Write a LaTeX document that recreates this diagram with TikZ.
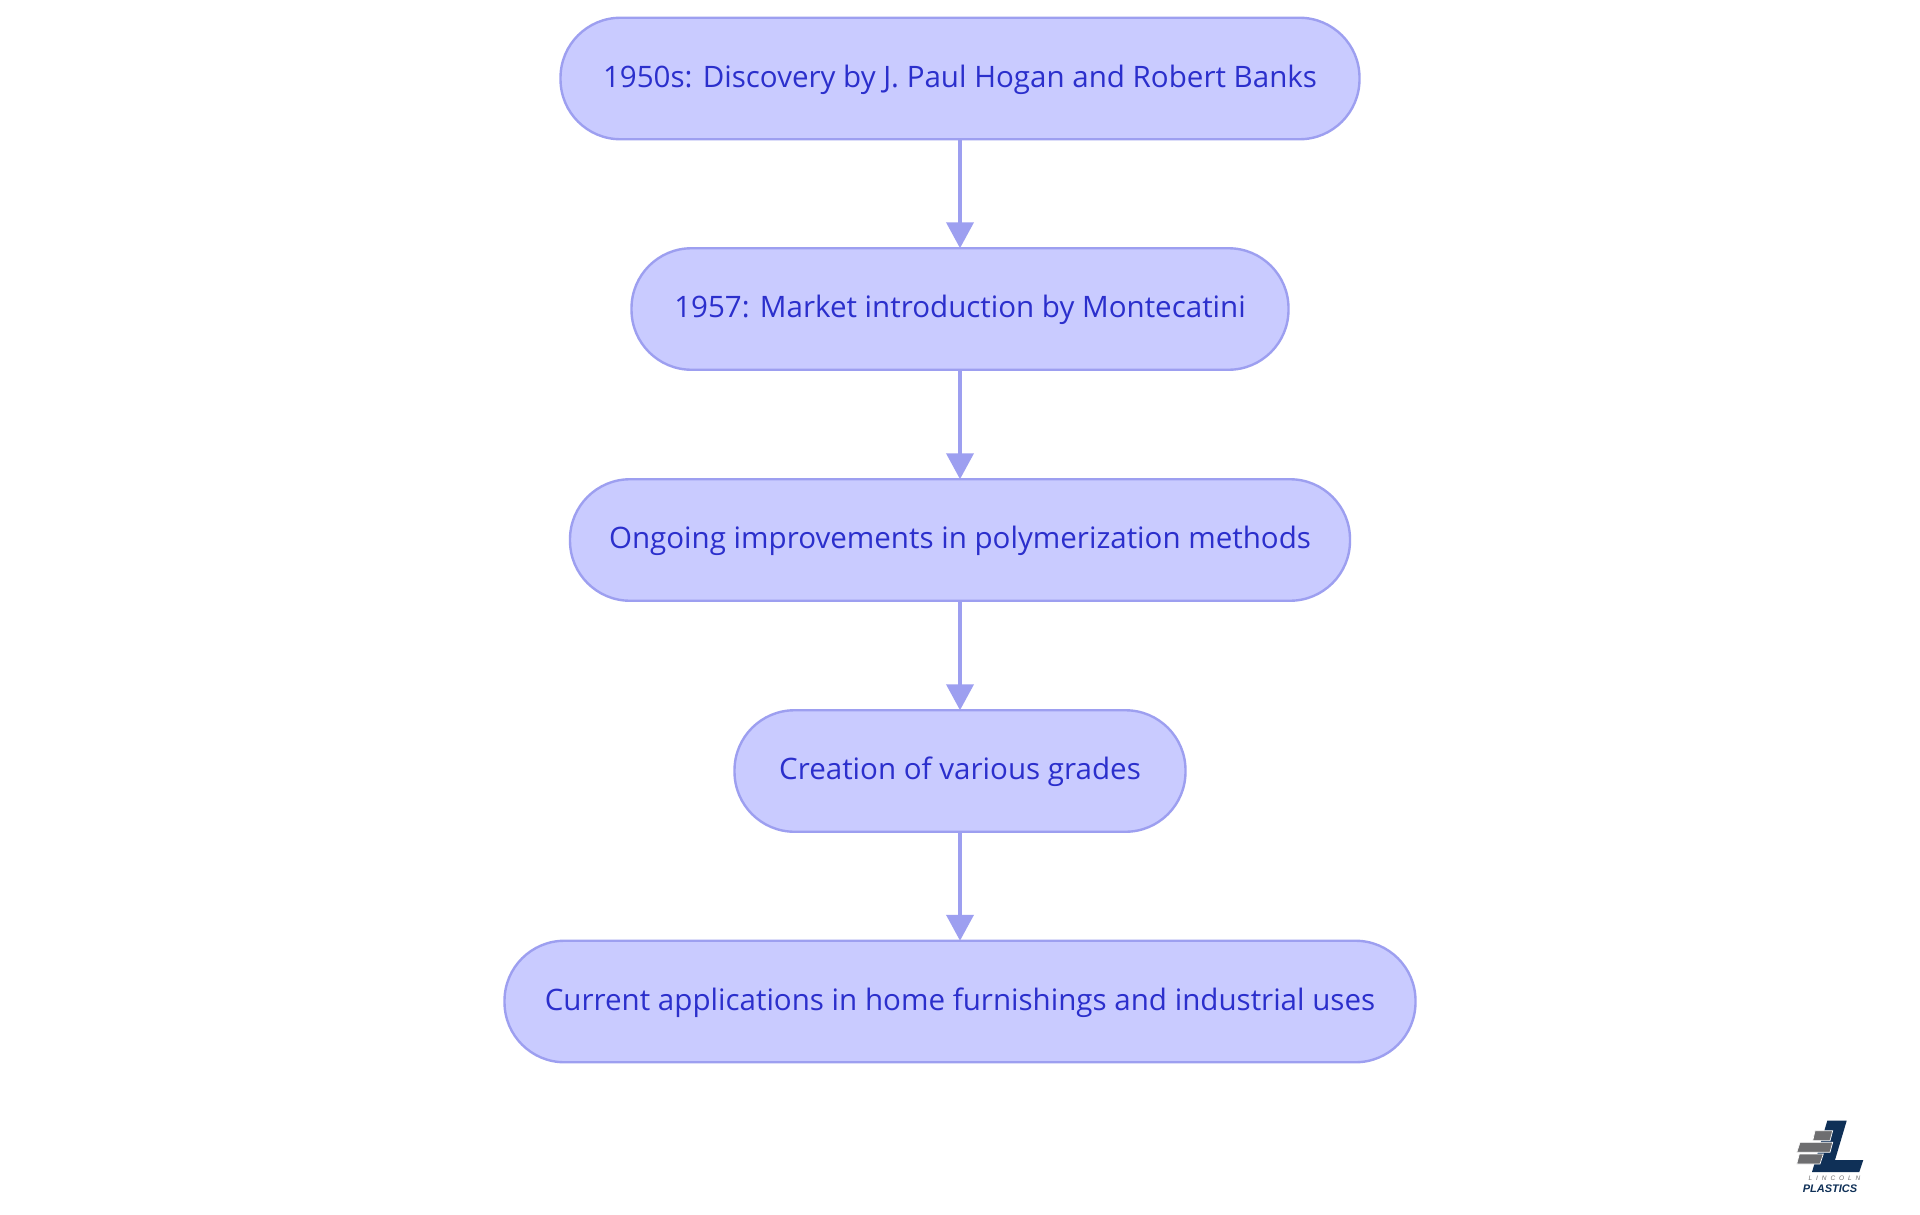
\documentclass[tikz,border=0pt]{standalone}
\usepackage{fontspec}
\setmainfont{Open Sans}
\newfontfamily\logofont{Liberation Sans}
\newfontfamily\logospaced[LetterSpace=60]{Liberation Sans}
\usetikzlibrary{arrows.meta}
\definecolor{pillfill}{HTML}{C9CBFF}
\definecolor{pillline}{HTML}{9D9FF0}
\definecolor{pilltext}{HTML}{2B2FCC}
\definecolor{logonavy}{HTML}{0F3057}
\definecolor{logogray}{HTML}{6E6E70}
\tikzset{
  pill/.style={draw=pillline,fill=pillfill,text=pilltext,line width=2.4pt,rounded corners=60pt,minimum height=121.5pt,outer sep=0pt,inner sep=0pt,text height=24pt,text depth=6.4pt,font=\fontsize{29.55}{34}\selectfont},
  flow/.style={draw=pillline,line width=4pt,-{Triangle[width=27pt,length=26pt,fill=pillline]},shorten >=0pt},
  brick/.style={fill=logogray,draw=white,line width=0.7pt},
}
\begin{document}
\begin{tikzpicture}[x=1pt,y=-1pt]
\useasboundingbox (0,0) rectangle (1920,1215);
\fill[white] (0,0) rectangle (1920,1215);
\node[pill,minimum width=799pt] (n1) at (960,78.5) {1950s: Discovery by J. Paul Hogan and Robert Banks};
\node[pill,minimum width=657pt] (n2) at (960,309) {1957: Market introduction by Montecatini};
\node[pill,minimum width=780pt] (n3) at (960,540) {Ongoing improvements in polymerization methods};
\node[pill,minimum width=451pt] (n4) at (960,771) {Creation of various grades};
\node[pill,minimum width=911pt] (n5) at (960,1001.5) {Current applications in home furnishings and industrial uses};
\draw[flow] (n1) -- (n2);
\draw[flow] (n2) -- (n3);
\draw[flow] (n3) -- (n4);
\draw[flow] (n4) -- (n5);
% logo
\fill[logonavy] (1827.3,1120.7) -- (1846.7,1120.7) -- (1835,1160) -- (1863.3,1160) -- (1859.3,1172) -- (1812,1172) -- cycle;
\path[brick] (1815,1130.7) -- (1832.7,1130.7) -- (1830,1140.7) -- (1812.7,1140.7) -- cycle;
\path[brick] (1800,1142.3) -- (1832.7,1142.3) -- (1830,1152.3) -- (1796.7,1152.3) -- cycle;
\path[brick] (1799.3,1154) -- (1823.3,1154) -- (1820,1164) -- (1796.7,1164) -- cycle;
\node[inner sep=0pt,text=logogray,font=\logospaced\itshape\fontsize{6.5}{7}\selectfont] (logoa) at (1834.5,1178.5) {LINCOLN};
\node[inner sep=0pt,text=logonavy,font=\logofont\bfseries\itshape\fontsize{11}{12}\selectfont] (logob) at (1830,1188.5) {PLASTICS};
\end{tikzpicture}
\end{document}
